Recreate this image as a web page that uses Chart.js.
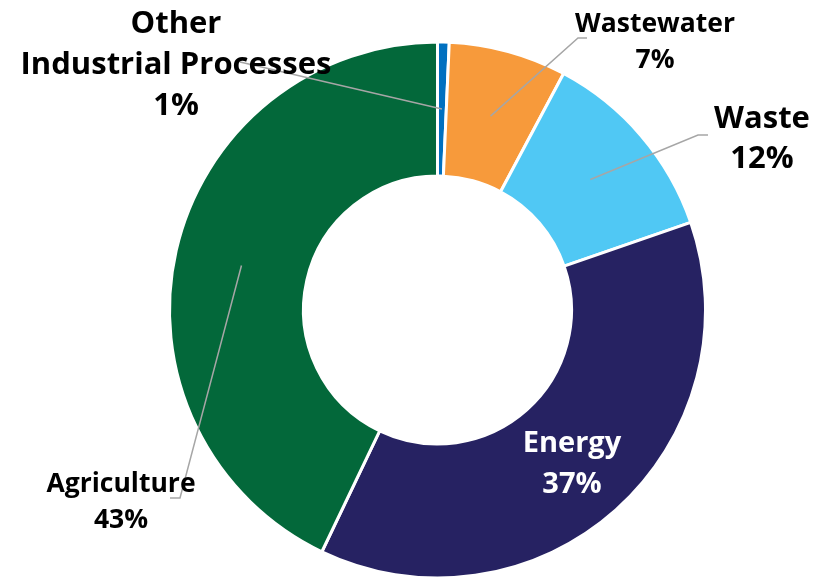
<!DOCTYPE html>
<html>
<head>
<meta charset="utf-8">
<script src="https://cdn.jsdelivr.net/npm/chart.js@4"></script>
<style>
  html, body { margin: 0; padding: 0; background: #fff; }
  canvas { display: block; }
</style>
</head>
<body>
<canvas id="emissionsChart" width="828" height="577"></canvas>
<script>
// shares, clockwise from 12 o'clock
const categories = ['Other\nIndustrial Processes', 'Wastewater', 'Waste', 'Energy', 'Agriculture'];
const shares = [0.7, 7.1, 11.9, 37.4, 42.9];
const shareLabels = ['1%', '7%', '12%', '37%', '43%'];
const colors = ['#0070c0', '#f79a3b', '#50c8f4', '#262262', '#03683a'];

// where each callout sits (text anchor + leader elbow/end)
const callouts = [
    { x: 176, y: 33, size: 31, gap: 41, color: '#000', elbow: null, end: [240, 62] },
    { x: 655, y: 32, size: 26.5, gap: 36, color: '#000', elbow: [578, 38], end: [587, 38] },
    { x: 762, y: 128, size: 31, gap: 40, color: '#000', elbow: [698, 135], end: [708, 135] },
    { x: 572, y: 452, size: 29, gap: 41, color: '#fff', elbow: null, end: null },
    { x: 121, y: 492, size: 26.5, gap: 36, color: '#000', elbow: [180, 498], end: [170, 498] }
];

const calloutPlugin = {
    id: 'callouts',
    afterDraw(chart) {
        const ctx = chart.ctx;
        const arcs = chart.getDatasetMeta(0).data;

        ctx.save();
        ctx.strokeStyle = '#a6a6a6';
        ctx.lineWidth = 1.5;
        arcs.forEach((arc, i) => {
            const c = callouts[i];
            if (!c.end) return;
            const p = arc.tooltipPosition();
            ctx.beginPath();
            ctx.moveTo(p.x, p.y);
            if (c.elbow) ctx.lineTo(c.elbow[0], c.elbow[1]);
            ctx.lineTo(c.end[0], c.end[1]);
            ctx.stroke();
        });

        ctx.textAlign = 'center';
        ctx.textBaseline = 'alphabetic';
        categories.forEach((name, i) => {
            const c = callouts[i];
            const lines = name.split('\n').concat(shareLabels[i]);
            ctx.font = 'bold ' + c.size + 'px "Open Sans"';
            ctx.fillStyle = c.color;
            lines.forEach((line, j) => {
                ctx.fillText(line, c.x, c.y + j * c.gap);
            });
        });
        ctx.restore();
    }
};

new Chart(document.getElementById('emissionsChart'), {
    type: 'doughnut',
    data: {
        labels: categories,
        datasets: [{
            data: shares,
            backgroundColor: colors,
            borderColor: '#fff',
            borderWidth: 3,
            radius: 268,
            cutout: '50%'
        }]
    },
    options: {
        responsive: false,
        animation: false,
        layout: { padding: { left: 170, right: 123, top: 43, bottom: 0 } },
        plugins: {
            legend: { display: false },
            tooltip: { enabled: false }
        }
    },
    plugins: [calloutPlugin]
});
</script>
</body>
</html>
